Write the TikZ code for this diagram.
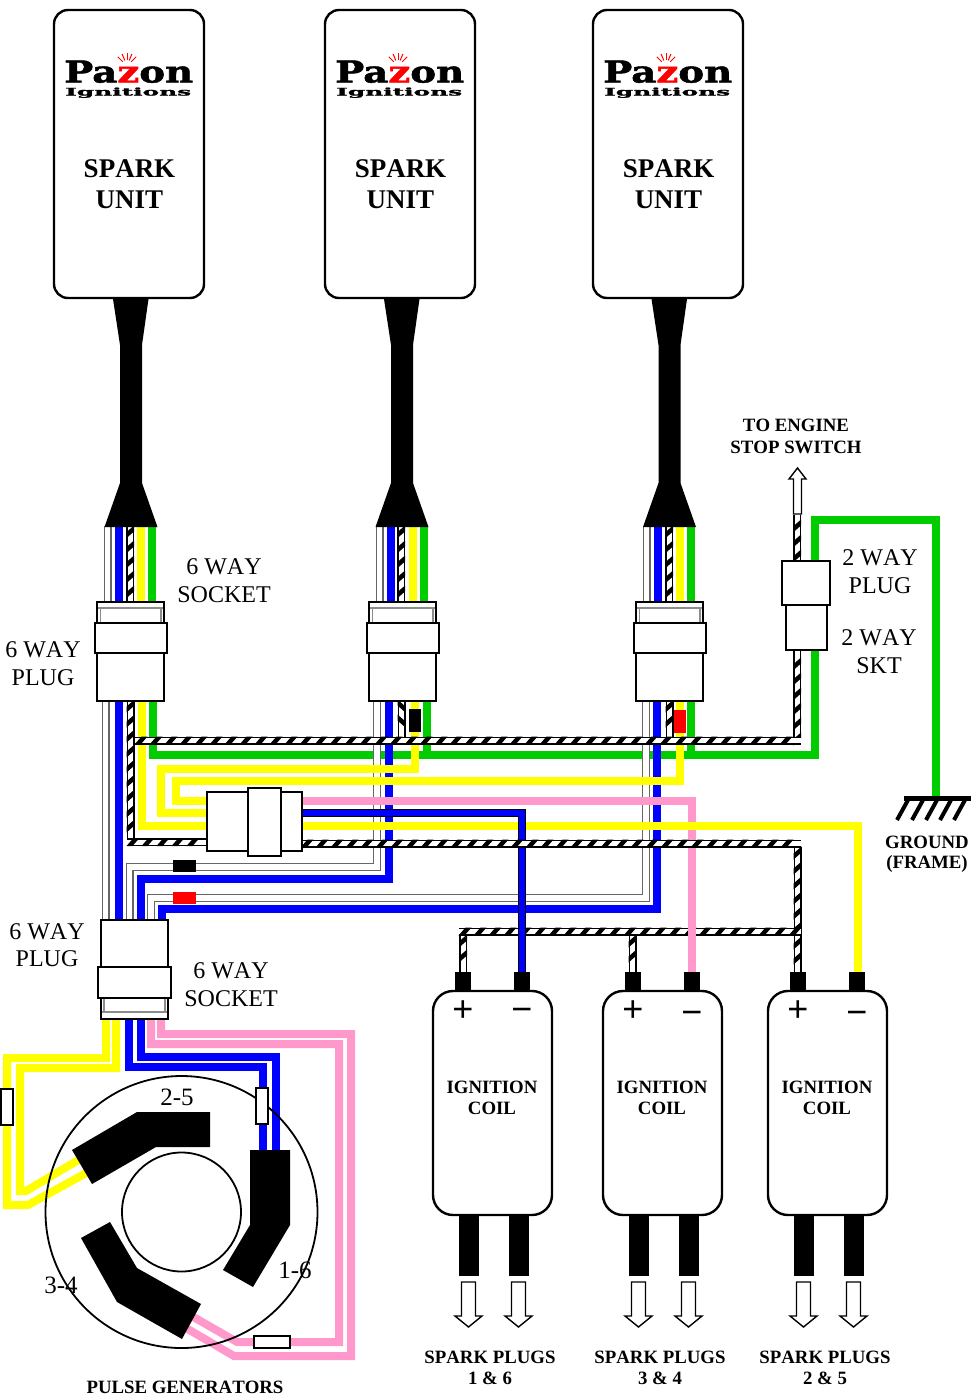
\documentclass[tikz,border=0pt]{standalone}
\usepackage{fontspec}
\setmainfont{Liberation Serif}[Kerning=Off]
\newfontfamily\logofont{DejaVu Serif}[BoldFeatures={FakeBold=1.5}]
\newfontfamily\symfont{Liberation Sans}
\usetikzlibrary{decorations.markings}
\definecolor{wgreen}{RGB}{0,204,0}
\definecolor{wblue}{RGB}{0,0,255}
\definecolor{wyellow}{RGB}{255,255,0}
\definecolor{wpink}{RGB}{255,153,204}
\tikzset{
  wire/.style={line width=8,line join=miter,line cap=butt},
  greenw/.style={wire,draw=wgreen},
  bluew/.style={wire,draw=wblue},
  yelw/.style={wire,draw=wyellow},
  pinkw/.style={wire,draw=wpink},
  whitew/.style={line width=1.2,draw=black!60,double=white,double distance=5.6,line join=miter},
  blkblue/.style={line width=1.2,draw=black,double=wblue,double distance=5.6,line join=miter},
  twistbase/.style={preaction={draw=black,line width=8},preaction={draw=white,line width=5}},
  twist/.style={twistbase,postaction={decorate,decoration={markings,
    mark=between positions 6pt and -6pt step 15pt with {\fill[black] (-6.5pt,-4pt) -- (-0.5pt,-4pt) -- (6.5pt,4pt) -- (0.5pt,4pt) -- cycle;}}}},
  twistm/.style={twistbase,postaction={decorate,decoration={markings,
    mark=between positions 6pt and -6pt step 15pt with {\fill[black] (-6.5pt,4pt) -- (-0.5pt,4pt) -- (6.5pt,-4pt) -- (0.5pt,-4pt) -- cycle;}}}},
  pbox/.style={draw=black,fill=white,line width=2.4,inner sep=0,outer sep=0},
  thinbox/.style={draw=black,fill=white,line width=2,inner sep=0,outer sep=0},
  unitbox/.style={pbox,rounded corners=14},
  coilbox/.style={pbox,rounded corners=20},
  term/.style={fill=black,draw=none,inner sep=0,outer sep=0},
  hollow/.style={draw=black,fill=white,line width=1.4,line join=miter},
  lab/.style={inner sep=0,outer sep=0,font=\fontsize{24}{24}\selectfont},
  blab/.style={inner sep=0,outer sep=0,font=\fontsize{18.8}{18.8}\selectfont\bfseries},
  ulab/.style={inner sep=0,outer sep=0,font=\fontsize{27}{27}\selectfont\bfseries},
  plab/.style={inner sep=0,outer sep=0,font=\fontsize{25}{25}\selectfont},
  sign/.style={inner sep=0,outer sep=0,anchor=base,font=\fontsize{36}{36}\selectfont\symfont},
  grayln/.style={draw=black!45,line width=1.4},
}
% box by corners: [style] name x1 y1 x2 y2
\newcommand{\bx}[6][pbox]{%
  \pgfmathsetmacro\bxw{(#5)-(#3)}\pgfmathsetmacro\bxh{(#6)-(#4)}%
  \pgfmathsetmacro\bxx{((#3)+(#5))/2}\pgfmathsetmacro\bxy{((#4)+(#6))/2}%
  \node[#1,minimum width=\bxw pt,minimum height=\bxh pt] (#2) at (\bxx,\bxy) {};}
\newcommand{\sparkunit}[3]{%
  \bx[unitbox]{unit#1}{#2}{10}{#2+150}{298}
  \node[ulab] (spark#1) at (#2+75.5,169) {SPARK};
  \node[ulab] (sunit#1) at (#2+75.5,200) {UNIT};
  \pgfmathsetmacro\logox{#2+10}
  \node[anchor=base west,inner sep=0] (logoa#1) at (\logox,82.5) {\resizebox{129pt}{22pt}{\logofont\bfseries Pa\textcolor{red}{z}on}};
  \node[anchor=base west,inner sep=0] (logob#1) at (\logox+1,95.5) {\resizebox{126pt}{8pt}{\logofont\bfseries Ignitions}};
  \foreach \ang in {45,68,90,112,135}{
    \draw[red,line width=1] ({\logox+63+6*cos(\ang)},{66-6*sin(\ang)}) -- ({\logox+63+13*cos(\ang)},{66-13*sin(\ang)});}
  \fill[black] (#3-18,299) -- (#3+17.5,299) -- (#3+11,345) -- (#3+11,483) -- (#3+26.5,527) -- (#3-26.5,527) -- (#3-11,483) -- (#3-11,345) -- cycle;}
\begin{document}
\begin{tikzpicture}[x=1pt,y=-1pt]
\useasboundingbox (0,0) rectangle (980,1398);
\fill[white] (0,0) rectangle (980,1398);

% wires between cable and socket
\foreach \xa/\xb/\xc/\xd/\xe in {107.5/119/130/141/152,379.5/391/401/413/424,646.5/658/669/680/691}{
  \draw[whitew] (\xa,526) -- (\xa,603);
  \draw[bluew] (\xb,526) -- (\xb,603);
  \path[twistm] (\xc,526) -- (\xc,603);
  \draw[yelw] (\xd,526) -- (\xd,603);
  \draw[greenw] (\xe,526) -- (\xe,603);
}

% green
\draw[greenw] (153,700) -- (153,755) -- (815,755) -- (815,649);
\draw[greenw] (427,700) -- (427,755);
\draw[greenw] (691,700) -- (691,755);
\draw[greenw] (815,562) -- (815,520) -- (936,520) -- (936,797);

% white and blue trunk
\draw[whitew] (105.5,700) -- (105.5,921);
\draw[whitew] (377,700) -- (377,867) -- (129.5,867) -- (129.5,921);
\draw[whitew] (646,700) -- (646,898) -- (151,898) -- (151,921);
\draw[bluew] (119,700) -- (119,921);
\draw[bluew] (389,700) -- (389,879) -- (141,879) -- (141,921);
\draw[bluew] (657,700) -- (657,909) -- (162,909) -- (162,921);

% coil earth branch
\path[twistm] (463,935) -- (463,973);
\path[twistm] (632.5,935) -- (632.5,973);
\path[twistm] (797.5,847) -- (797.5,973);
\path[twist] (459,931.5) -- (801,931.5);

% yellow / pink / blue to the coils
\draw[yelw] (142,700) -- (142,826) -- (208,826);
\draw[yelw] (415,700) -- (415,769) -- (161,769) -- (161,813) -- (208,813);
\draw[yelw] (680,700) -- (680,781) -- (176,781) -- (176,801) -- (208,801);
\draw[pinkw] (301,801) -- (692,801) -- (692,973);
\draw[yelw] (301,826) -- (858,826) -- (858,973);
\draw[blkblue] (301,813) -- (522,813) -- (522,973);

% twisted pairs
\path[twistm] (130.5,700) -- (130.5,845);
\path[twist] (401.5,700) -- (401.5,738);
\path[twistm] (669.5,700) -- (669.5,738);
\path[twistm] (797,745) -- (797,649);
\path[twistm] (797,562) -- (797,515);
\path[twist] (127,842) -- (208,842);
\path[twist] (135,740.5) -- (801,740.5);
\path[twist] (301,843.5) -- (801,843.5);

% wires below lower plug
\draw[yelw] (106,1018) -- (106,1058) -- (7,1058) -- (7,1205) -- (28,1205) -- (88,1172);
\draw[yelw] (116,1018) -- (116,1068) -- (20,1068) -- (20,1191) -- (26,1191) -- (80,1159);
\draw[bluew] (129,1018) -- (129,1067) -- (263,1067) -- (263,1152);
\draw[bluew] (141,1018) -- (141,1057) -- (276,1057) -- (276,1152);
\draw[pinkw] (151,1018) -- (151,1044) -- (339,1044) -- (339,1342) -- (237,1342) -- (190,1315);
\draw[pinkw] (161,1018) -- (161,1034) -- (351,1034) -- (351,1356) -- (234,1356) -- (186,1328);

% stator
\node[draw=black,line width=1.8,circle,inner sep=0,minimum size=272pt] (stator) at (181.5,1212) {};
\node[draw=black,line width=1.8,circle,inner sep=0,minimum size=119pt] (rotor) at (181.5,1212) {};
\fill[black] (72,1150) -- (137,1112) -- (210,1112) -- (210,1147) -- (156,1147) -- (92,1184) -- cycle;
\fill[black] (250,1150) -- (290,1150) -- (290,1225) -- (253,1287) -- (223,1270) -- (250,1225) -- cycle;
\fill[black] (110,1222) -- (137,1268) -- (201,1304) -- (182,1339) -- (117,1302) -- (81,1238) -- cycle;
\node[plab] (l25) at (177,1097) {2-5};
\node[plab] (l16) at (295,1270) {1-6};
\node[plab] (l34) at (61,1285) {3-4};
\bx[thinbox]{resa}{1}{1089}{13}{1125}
\bx[thinbox]{resb}{256}{1088}{268}{1124}
\bx[thinbox]{resc}{254}{1336}{290}{1348}
\node[blab] (pulse) at (185,1387) {PULSE GENERATORS};

% spark units
\sparkunit{A}{54}{131}
\sparkunit{B}{325}{402}
\sparkunit{C}{593}{669.5}

% six way sockets and plugs on the spark units
\foreach \nm/\dx in {A/0,B/272,C/539}{
  \bx{stop\nm}{97+\dx}{602}{164+\dx}{623}
  \draw[grayln] (98+\dx,608) -- (163+\dx,608);
  \draw[grayln] (100.5+\dx,608) -- (100.5+\dx,622);
  \draw[grayln] (161+\dx,608) -- (161+\dx,622);
  \bx{slow\nm}{97+\dx}{653}{164+\dx}{701}
  \bx{scol\nm}{95+\dx}{623}{167+\dx}{653}
}
\node[term,minimum width=12pt,minimum height=23pt] (mblack) at (415,720.5) {};
\node[term,fill=red,minimum width=12pt,minimum height=23pt] (mred) at (680,721.5) {};
\node[term,minimum width=23pt,minimum height=12pt] (mblackb) at (184.5,866) {};
\node[term,fill=red,minimum width=23pt,minimum height=12pt] (mredb) at (184.5,898) {};

% lower plug
\bx{ltop}{101}{920}{168}{967}
\bx{lbot}{101}{998}{168}{1019}
\draw[grayln] (102,1012) -- (167,1012);
\draw[grayln] (104,999) -- (104,1012);
\draw[grayln] (165,999) -- (165,1012);
\bx{lcol}{98}{967}{171}{998}

% junction
\bx{jmain}{207}{792}{302}{851}
\bx{jmid}{248}{788}{281}{856}

% two way
\bx{twsk}{786}{605}{827}{650}
\bx{twpl}{782}{561}{830}{605}
\draw[hollow] (793.5,514) -- (793.5,479) -- (789,479) -- (797.5,468) -- (806,479) -- (801.5,479) -- (801.5,514) -- cycle;

% ground
\fill[black] (904,796) rectangle (971,801);
\foreach \gx in {897,912,926,940,954}{\draw[black,line width=4] (\gx,820) -- (\gx+11,800);}

% coils
\foreach \nm/\cx/\ta/\tb/\bax/\bbx/\sgy in {A/433/463/522/468.5/518.5/1009,B/603/633/692/638.5/688.5/1012,C/768/798/857/803.5/853.5/1012}{
  \bx[coilbox]{coil\nm}{\cx}{991}{\cx+119}{1215}
  \node[term,minimum width=16pt,minimum height=20pt] (tp\nm) at (\ta,982) {};
  \node[term,minimum width=16pt,minimum height=20pt] (tm\nm) at (\tb,982) {};
  \node[term,minimum width=20pt,minimum height=61pt] (ba\nm) at (\bax,1245.5) {};
  \node[term,minimum width=20pt,minimum height=61pt] (bb\nm) at (\bbx,1245.5) {};
  \node[sign] (plus\nm) at (\ta,1021) {+};
  \node[sign] (minus\nm) at (\tb,\sgy+12) {−};
  \node[blab] (iga\nm) at (\cx+59,1087.5) {IGNITION};
  \node[blab] (igb\nm) at (\cx+59,1108.5) {COIL};
  \foreach \ax in {\bax,\bbx}{
    \draw[hollow] (\ax-7,1282) -- (\ax+7,1282) -- (\ax+7,1316) -- (\ax+13.5,1316) -- (\ax,1327) -- (\ax-13.5,1316) -- (\ax-7,1316) -- cycle;
  }
}

% labels
\node[blab] (spa) at (490,1357) {SPARK PLUGS};
\node[blab] (spb) at (490,1378) {1 \& 6};
\node[blab] (spc) at (660,1357) {SPARK PLUGS};
\node[blab] (spd) at (660,1378) {3 \& 4};
\node[blab] (spe) at (825,1357) {SPARK PLUGS};
\node[blab] (spf) at (825,1378) {2 \& 5};
\node[blab] (toa) at (796,425) {TO ENGINE};
\node[blab] (tob) at (796,447) {STOP SWITCH};
\node[blab] (gra) at (927,842) {GROUND};
\node[blab] (grb) at (927,864) {(FRAME)};
\node[lab] (t1) at (224,567) {6 WAY};
\node[lab] (t2) at (224,595) {SOCKET};
\node[lab] (t3) at (43,650) {6 WAY};
\node[lab] (t4) at (43,678) {PLUG};
\node[lab] (t5) at (47,932) {6 WAY};
\node[lab] (t6) at (47,959) {PLUG};
\node[lab] (t7) at (231,971) {6 WAY};
\node[lab] (t8) at (231,999) {SOCKET};
\node[lab] (t9) at (880,558) {2 WAY};
\node[lab] (t10) at (880,586) {PLUG};
\node[lab] (t11) at (879,638) {2 WAY};
\node[lab] (t12) at (879,666) {SKT};
\end{tikzpicture}
\end{document}
